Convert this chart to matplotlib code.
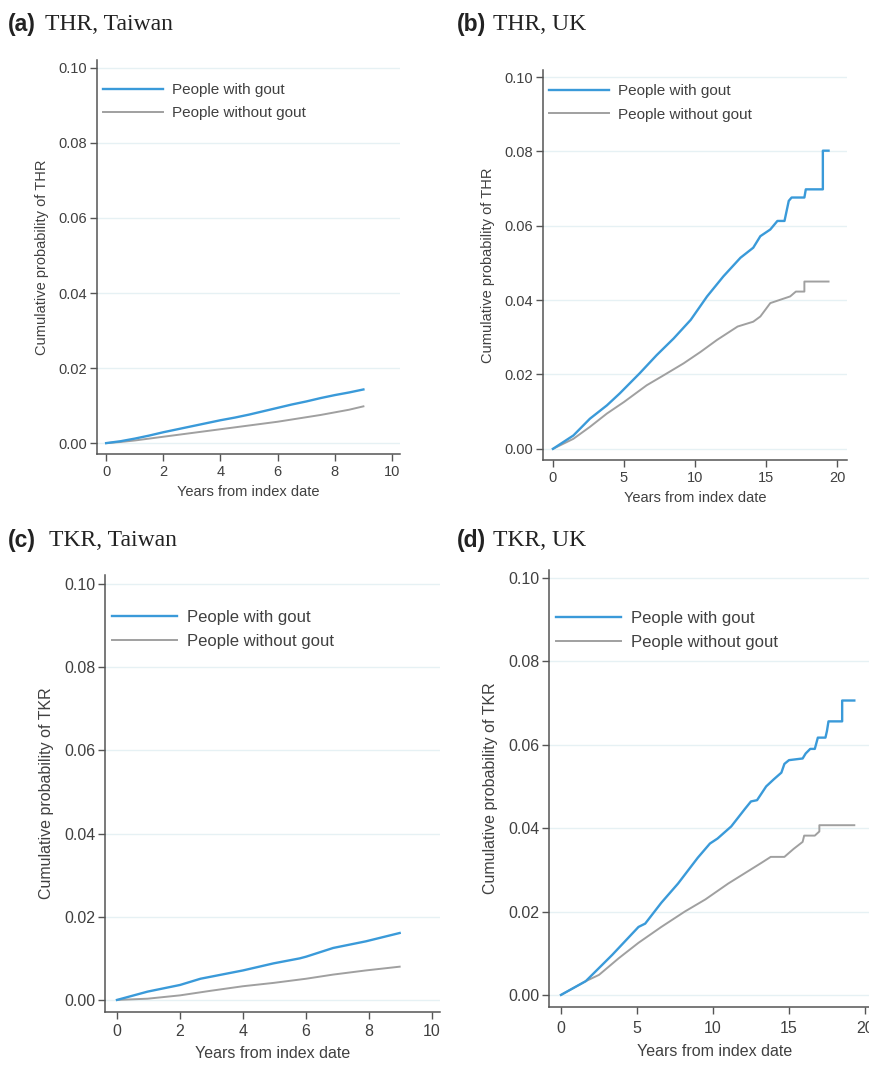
import matplotlib
matplotlib.use("Agg")
from matplotlib import pyplot as plt

plt.rcParams["font.family"] = ["Liberation Sans", "DejaVu Sans"]

# ---------------------------------------------------------------------------
# Data (years from index date, cumulative probability)
# ---------------------------------------------------------------------------
# (a) THR, Taiwan
thr_tw_years = [0, 0.5, 1, 1.5, 2, 2.5, 3, 3.5, 4, 4.5, 5, 5.5, 6, 6.5, 7, 7.5, 8, 8.5, 9]
thr_tw_gout = [0, 0.0005, 0.0012, 0.0020, 0.0029, 0.0037, 0.0045, 0.0053, 0.0061, 0.0068,
               0.0076, 0.0085, 0.0094, 0.0103, 0.0111, 0.0120, 0.0128, 0.0135, 0.0143]
thr_tw_nogout = [0, 0.0003, 0.0007, 0.0012, 0.0017, 0.0022, 0.0027, 0.0032, 0.0037, 0.0042,
                 0.0047, 0.0052, 0.0057, 0.0063, 0.0069, 0.0075, 0.0082, 0.0089, 0.0098]

# (b) THR, UK
thr_uk_gout_years = [0, 1.44, 2.6, 3.8, 4.7, 6.1, 7.3, 8.5, 9.7, 10.85, 12.0, 13.2, 14.1, 14.6,
                     15.3, 15.8, 16.3, 16.6, 16.8, 17.7, 17.8, 19.0, 19.0, 19.4]
thr_uk_gout = [0, 0.0036, 0.0081, 0.0117, 0.0149, 0.0203, 0.0252, 0.0297, 0.0347, 0.0410,
               0.0464, 0.0514, 0.0541, 0.0572, 0.0590, 0.0613, 0.0613, 0.0667, 0.0676, 0.0676,
               0.0698, 0.0698, 0.0802, 0.0802]
thr_uk_nogout_years = [0, 1.44, 2.6, 3.8, 5.0, 6.6, 7.8, 9.2, 10.4, 11.55, 13.0, 14.1, 14.6,
                       15.3, 16.0, 16.7, 17.1, 17.7, 17.7, 19.4]
thr_uk_nogout = [0, 0.0027, 0.0059, 0.0095, 0.0126, 0.0171, 0.0198, 0.0230, 0.0261, 0.0293,
                 0.0329, 0.0342, 0.0356, 0.0392, 0.0401, 0.0410, 0.0423, 0.0423, 0.0450, 0.0450]

# (c) TKR, Taiwan
tkr_tw_years = [0, 0.97, 2, 2.65, 4, 4.97, 5.8, 6.0, 6.86, 7.9, 8.97]
tkr_tw_gout = [0, 0.0020, 0.0036, 0.0051, 0.0071, 0.0088, 0.0100, 0.0104, 0.0125, 0.0141, 0.0161]
tkr_tw_nogout_years = [0, 0.97, 2, 2.97, 4, 4.97, 6, 6.86, 7.9, 8.97]
tkr_tw_nogout = [0, 0.0003, 0.0011, 0.0022, 0.0033, 0.0041, 0.0051, 0.0061, 0.0071, 0.0080]

# (d) TKR, UK
tkr_uk_gout_years = [0, 1.63, 3.37, 5.1, 5.54, 6.6, 7.7, 9.0, 9.8, 10.3, 11.2, 12.1, 12.5, 12.9,
                     13.5, 14.0, 14.5, 14.7, 15.0, 15.9, 16.1, 16.4, 16.7, 16.9, 17.4, 17.5,
                     17.6, 18.5, 18.5, 19.3]
tkr_uk_gout = [0, 0.0033, 0.0096, 0.0163, 0.0171, 0.0221, 0.0267, 0.0329, 0.0363, 0.0375,
               0.0404, 0.0446, 0.0464, 0.0467, 0.0500, 0.0517, 0.0533, 0.0554, 0.0563, 0.0567,
               0.0579, 0.0590, 0.0590, 0.0617, 0.0617, 0.0633, 0.0656, 0.0656, 0.0706, 0.0706]
tkr_uk_nogout_years = [0, 1.63, 2.5, 3.8, 5.1, 6.6, 8.15, 9.5, 11.0, 12.1, 13.2, 13.8, 14.7,
                       15.3, 15.9, 16.0, 16.7, 17.0, 17.0, 19.3]
tkr_uk_nogout = [0, 0.0033, 0.0048, 0.0088, 0.0125, 0.0163, 0.0200, 0.0229, 0.0267, 0.0292,
                 0.0317, 0.0331, 0.0331, 0.0350, 0.0367, 0.0382, 0.0382, 0.0392, 0.0407, 0.0407]

y_ticks = [0.00, 0.02, 0.04, 0.06, 0.08, 0.10]
legend_labels = ["People with gout", "People without gout"]

BLUE = "#3a9ad9"
GREY = "#a0a0a0"
AXIS = "#555555"
TEXT = "#404040"
GRID = "#e6f1f4"

W, H = 869, 1069
fig = plt.figure(figsize=(W / 100, H / 100), dpi=100)


def px_axes(left, top, right, bottom):
    # axes box given in reference pixels
    return fig.add_axes([left / W, 1 - bottom / H, (right - left) / W, (bottom - top) / H])


def panel(ax, x1, y1, x2, y2, xticks, xlim, ylim, outcome, fs, leg_anchor, lspace, xpad):
    ax.set_xlim(*xlim)
    ax.set_ylim(*ylim)
    for y in y_ticks:
        ax.axhline(y, color=GRID, lw=1.0, zorder=0)
    ax.plot(x1, y1, color=BLUE, lw=1.7, label=legend_labels[0], zorder=3)
    ax.plot(x2, y2, color=GREY, lw=1.4, label=legend_labels[1], zorder=2)
    ax.set_xticks(xticks)
    ax.set_yticks(y_ticks)
    ax.set_yticklabels([f"{v:.2f}" for v in y_ticks])
    for side in ["top", "right"]:
        ax.spines[side].set_visible(False)
    for side in ["left", "bottom"]:
        ax.spines[side].set_color(AXIS)
        ax.spines[side].set_linewidth(1.1)
    ax.tick_params(direction="out", length=5, width=1.0, color=AXIS,
                   labelcolor=TEXT, labelsize=fs, pad=2)
    ax.tick_params(axis="x", pad=xpad)
    ax.set_xlabel("Years from index date", fontsize=fs, color=TEXT, labelpad=xpad + 1)
    ax.set_ylabel(f"Cumulative probability of {outcome}", fontsize=fs, color=TEXT, labelpad=7)
    leg = ax.legend(loc="upper left", bbox_to_anchor=leg_anchor, frameon=False,
                    fontsize=fs + 0.5, handlelength=3.9, handletextpad=0.6,
                    labelspacing=lspace, borderaxespad=0, borderpad=0)
    for t in leg.get_texts():
        t.set_color(TEXT)


ax_a = px_axes(97, 60, 400, 454)
panel(ax_a, thr_tw_years, thr_tw_gout, thr_tw_years, thr_tw_nogout,
      [0, 2, 4, 6, 8, 10], (-0.32, 10.28), (-0.0029, 0.1021), "THR", 10.5,
      (0.02, 0.942), 0.6, 3)

ax_b = px_axes(543, 70, 847, 460)
panel(ax_b, thr_uk_gout_years, thr_uk_gout, thr_uk_nogout_years, thr_uk_nogout,
      [0, 5, 10, 15, 20], (-0.7, 20.7), (-0.003, 0.1019), "THR", 10.5,
      (0.02, 0.963), 0.6, 3)

ax_c = px_axes(105, 575, 440, 1012)
panel(ax_c, tkr_tw_years, tkr_tw_gout, tkr_tw_nogout_years, tkr_tw_nogout,
      [0, 2, 4, 6, 8, 10], (-0.38, 10.25), (-0.0029, 0.1022), "TKR", 11.5,
      (0.02, 0.92), 0.55, 4)

ax_d = px_axes(549, 570, 880, 1007)
panel(ax_d, tkr_uk_gout_years, tkr_uk_gout, tkr_uk_nogout_years, tkr_uk_nogout,
      [0, 5, 10, 15, 20], (-0.79, 20.99), (-0.0029, 0.1019), "TKR", 11.5,
      (0.02, 0.907), 0.55, 5)

# panel headings
headings = [("(a)", "THR, Taiwan", 8, 45, 25),
            ("(b)", "THR, UK", 457, 493, 25),
            ("(c)", "TKR, Taiwan", 8, 49, 540),
            ("(d)", "TKR, UK", 457, 493, 540)]
for tag, title, xt, xs, yc in headings:
    fig.text(xt / W, 1 - yc / H, tag, fontsize=16.5, fontweight="bold", color="#222222",
             va="center", ha="left")
    fig.text(xs / W, 1 - yc / H, title, fontsize=17, family="Liberation Serif",
             color="#222222", va="center", ha="left")

fig.savefig("out.png", dpi=100)
